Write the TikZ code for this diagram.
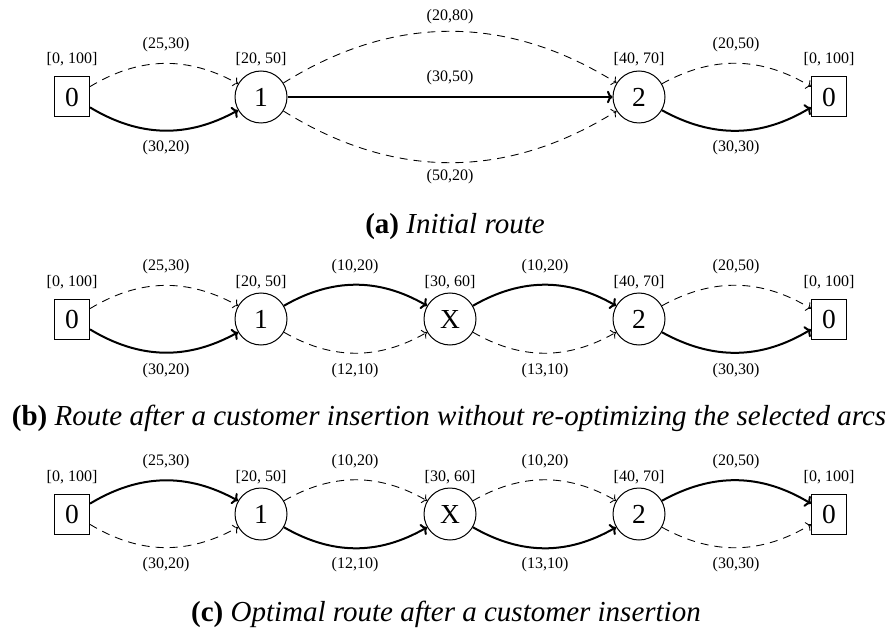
\documentclass[tikz,border=0pt]{standalone}
\usepackage{fontspec}
\setmainfont{Liberation Serif}
\usetikzlibrary{arrows.meta}
\tikzset{
  depot/.style={draw, line width=0.4pt, rectangle, minimum width=14pt, minimum height=16pt, inner sep=0pt, font=\fontsize{11}{12}\selectfont},
  cust/.style={draw, line width=0.4pt, circle, minimum size=20.8pt, inner sep=0pt, font=\fontsize{11}{12}\selectfont},
  lbl/.style={inner sep=0pt, font=\fontsize{6.4}{7}\selectfont},
  captext/.style={inner sep=0pt, font=\fontsize{11.6}{14}\selectfont},
  sel/.style={line width=0.8pt, -{To[length=2.2pt,width=5pt]}},
  alt/.style={line width=0.35pt, dash pattern=on 3.2pt off 2.4pt, -{To[length=1.8pt,width=4pt]}},
}
\begin{document}
\begin{tikzpicture}[x=0.4pt, y=-0.4pt]
\useasboundingbox (0,0) rectangle (891,632);
\fill[white] (0,0) rectangle (891,632);
% ---------- panel a ----------
\node[depot] (a0) at (72,97) {0};
\node[cust]  (a1) at (261,97) {1};
\node[cust]  (a2) at (639,97) {2};
\node[depot] (a3) at (829,97) {0};
\node[lbl] (ta0) at (72,59) {[0, 100]};
\node[lbl] (ta1) at (261,59) {[20, 50]};
\node[lbl] (ta2) at (639,59) {[40, 70]};
\node[lbl] (ta3) at (829,59) {[0, 100]};
\draw[alt] (a0) to[bend left=30] (a1);
\draw[sel] (a0) to[bend right=30] (a1);
\draw[alt] (a1) to[bend left=32] (a2);
\draw[sel] (a1) -- (a2);
\draw[alt] (a1) to[bend right=32] (a2);
\draw[alt] (a2) to[bend left=30] (a3);
\draw[sel] (a2) to[bend right=30] (a3);
\node[lbl] (ea1) at (166,45) {(25,30)};
\node[lbl] (ea2) at (166,148) {(30,20)};
\node[lbl] (ea3) at (450,17) {(20,80)};
\node[lbl] (ea4) at (450,78) {(30,50)};
\node[lbl] (ea5) at (450,177) {(50,20)};
\node[lbl] (ea6) at (736,45) {(20,50)};
\node[lbl] (ea7) at (736,148) {(30,30)};
\node[captext] (capa) at (455,227) {\textbf{(a)} \textit{Initial route}};
% ---------- panel b ----------
\node[depot] (b0) at (72,319) {0};
\node[cust]  (b1) at (261,319) {1};
\node[cust]  (bX) at (450,319) {X};
\node[cust]  (b2) at (639,319) {2};
\node[depot] (b3) at (829,319) {0};
\node[lbl] (tb0) at (72,282) {[0, 100]};
\node[lbl] (tb1) at (261,282) {[20, 50]};
\node[lbl] (tbX) at (450,282) {[30, 60]};
\node[lbl] (tb2) at (639,282) {[40, 70]};
\node[lbl] (tb3) at (829,282) {[0, 100]};
\draw[alt] (b0) to[bend left=30] (b1);
\draw[sel] (b0) to[bend right=30] (b1);
\draw[sel] (b1) to[bend left=30] (bX);
\draw[alt] (b1) to[bend right=30] (bX);
\draw[sel] (bX) to[bend left=30] (b2);
\draw[alt] (bX) to[bend right=30] (b2);
\draw[alt] (b2) to[bend left=30] (b3);
\draw[sel] (b2) to[bend right=30] (b3);
\node[lbl] (eb1) at (166,267) {(25,30)};
\node[lbl] (eb2) at (166,371) {(30,20)};
\node[lbl] (eb3) at (355,267) {(10,20)};
\node[lbl] (eb4) at (355,371) {(12,10)};
\node[lbl] (eb5) at (545,267) {(10,20)};
\node[lbl] (eb6) at (545,371) {(13,10)};
\node[lbl] (eb7) at (736,267) {(20,50)};
\node[lbl] (eb8) at (736,371) {(30,30)};
\node[captext] (capb) at (449,418) {\textbf{(b)} \textit{Route after a customer insertion without re-optimizing the selected arcs}};
% ---------- panel c ----------
\node[depot] (c0) at (72,514) {0};
\node[cust]  (c1) at (261,514) {1};
\node[cust]  (cX) at (450,514) {X};
\node[cust]  (c2) at (639,514) {2};
\node[depot] (c3) at (829,514) {0};
\node[lbl] (tc0) at (72,477) {[0, 100]};
\node[lbl] (tc1) at (261,477) {[20, 50]};
\node[lbl] (tcX) at (450,477) {[30, 60]};
\node[lbl] (tc2) at (639,477) {[40, 70]};
\node[lbl] (tc3) at (829,477) {[0, 100]};
\draw[sel] (c0) to[bend left=30] (c1);
\draw[alt] (c0) to[bend right=30] (c1);
\draw[alt] (c1) to[bend left=30] (cX);
\draw[sel] (c1) to[bend right=30] (cX);
\draw[alt] (cX) to[bend left=30] (c2);
\draw[sel] (cX) to[bend right=30] (c2);
\draw[sel] (c2) to[bend left=30] (c3);
\draw[alt] (c2) to[bend right=30] (c3);
\node[lbl] (ec1) at (166,462) {(25,30)};
\node[lbl] (ec2) at (166,565) {(30,20)};
\node[lbl] (ec3) at (355,462) {(10,20)};
\node[lbl] (ec4) at (355,565) {(12,10)};
\node[lbl] (ec5) at (545,462) {(10,20)};
\node[lbl] (ec6) at (545,565) {(13,10)};
\node[lbl] (ec7) at (736,462) {(20,50)};
\node[lbl] (ec8) at (736,565) {(30,30)};
\node[captext] (capc) at (446,614) {\textbf{(c)} \textit{Optimal route after a customer insertion}};
\end{tikzpicture}
\end{document}
